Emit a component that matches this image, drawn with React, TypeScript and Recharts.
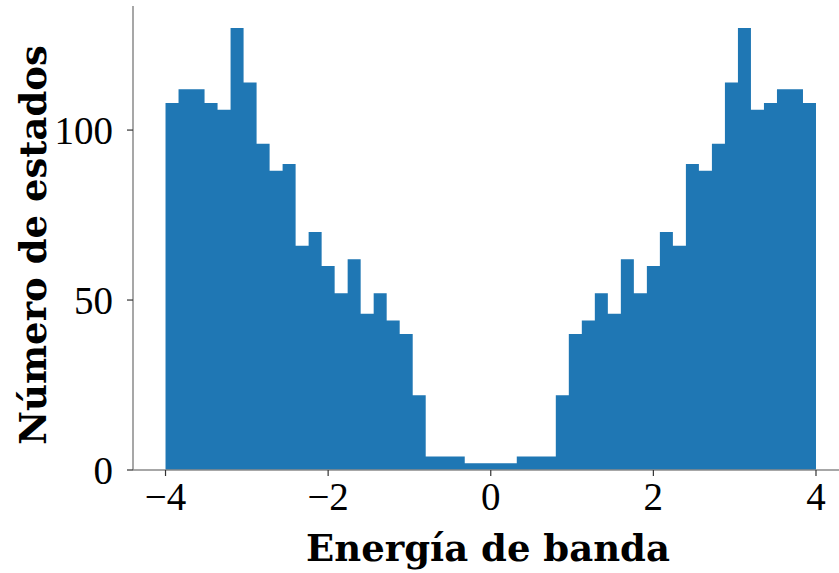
import React from 'react';
import { ComposedChart, Area, XAxis, YAxis } from 'recharts';

// Histogram counts per bin (50 bins between -4 and 4)
const counts: number[] = [
  108, 112, 112, 108, 106, 130, 114, 96, 88, 90,
  66, 70, 60, 52, 62, 46, 52, 44, 40, 22,
  4, 4, 4, 2, 2, 2, 2, 4, 4, 4,
  22, 40, 44, 52, 46, 62, 52, 60, 70, 66,
  90, 88, 96, 114, 130, 106, 108, 112, 112, 108,
];
const rangeMin = -4;
const rangeMax = 4;
const xTicks: number[] = [-4, -2, 0, 2, 4];
const yTicks: number[] = [0, 50, 100];
const xLabel = 'Energía de banda';
const yLabel = 'Número de estados';

const binEdges: number[] = Array.from(
  { length: counts.length + 1 },
  (_, i) => rangeMin + (i * (rangeMax - rangeMin)) / counts.length
);
const data = binEdges.map((e, i) => ({
  energy: +e.toFixed(4),
  count: counts[Math.min(i, counts.length - 1)],
}));

const COLOR = '#1f77b4';
const SPINE = '#8a8a8a';
const TICK_FONT = { fontFamily: '"Liberation Serif", serif', fontSize: 39, fill: '#000' };
const LABEL_FONT = '"DejaVu Serif", serif';

const fmt = (v: number) => (v < 0 ? '\u2212' + Math.abs(v) : String(v));

export default function App() {
  return (
    <div style={{ position: 'absolute', left: 0, top: 0, width: 839, height: 573, background: '#fff', overflow: 'hidden' }}>
      <ComposedChart width={839} height={573} data={data} margin={{ top: 6, right: 0, bottom: 0, left: 0 }}>
        <XAxis
          dataKey="energy"
          type="number"
          domain={[-4.4, 4.283]}
          allowDataOverflow
          ticks={xTicks}
          tickFormatter={fmt}
          height={103}
          tickSize={6}
          tickMargin={6}
          axisLine={{ stroke: SPINE, strokeWidth: 1.5 }}
          tickLine={{ stroke: '#333', strokeWidth: 1.2 }}
          tick={TICK_FONT}
          interval={0}
          label={{
            content: (props: any) => {
              const vb = props.viewBox || { x: 133, width: 706 };
              return (
                <text x={vb.x + vb.width / 2 + 2} y={561} textAnchor="middle" fontFamily={LABEL_FONT} fontWeight="bold" fontSize={37} fill="#000">
                  {xLabel}
                </text>
              );
            },
          }}
        />
        <XAxis
          xAxisId="top"
          orientation="top"
          dataKey="energy"
          type="number"
          domain={[-4.4, 4.283]}
          allowDataOverflow
          height={0}
          tick={false}
          tickLine={false}
          axisLine={{ stroke: SPINE, strokeWidth: 1.5 }}
        />
        <YAxis
          type="number"
          domain={[0, 136.5]}
          allowDataOverflow
          ticks={yTicks}
          width={133}
          tickSize={6}
          tickMargin={14}
          axisLine={{ stroke: SPINE, strokeWidth: 1.5 }}
          tickLine={{ stroke: '#333', strokeWidth: 1.2 }}
          tick={TICK_FONT}
          interval={0}
          label={{
            content: (props: any) => {
              const vb = props.viewBox || { y: 6, height: 464 };
              const cy = vb.y + vb.height / 2 + 7;
              return (
                <text x={46} y={cy} transform={`rotate(-90, 46, ${cy})`} textAnchor="middle" fontFamily={LABEL_FONT} fontWeight="bold" fontSize={37} fill="#000">
                  {yLabel}
                </text>
              );
            },
          }}
        />
        <Area
          type="stepAfter"
          dataKey="count"
          stroke="none"
          fill={COLOR}
          fillOpacity={1}
          isAnimationActive={false}
          dot={false}
          activeDot={false}
        />
      </ComposedChart>
    </div>
  );
}
